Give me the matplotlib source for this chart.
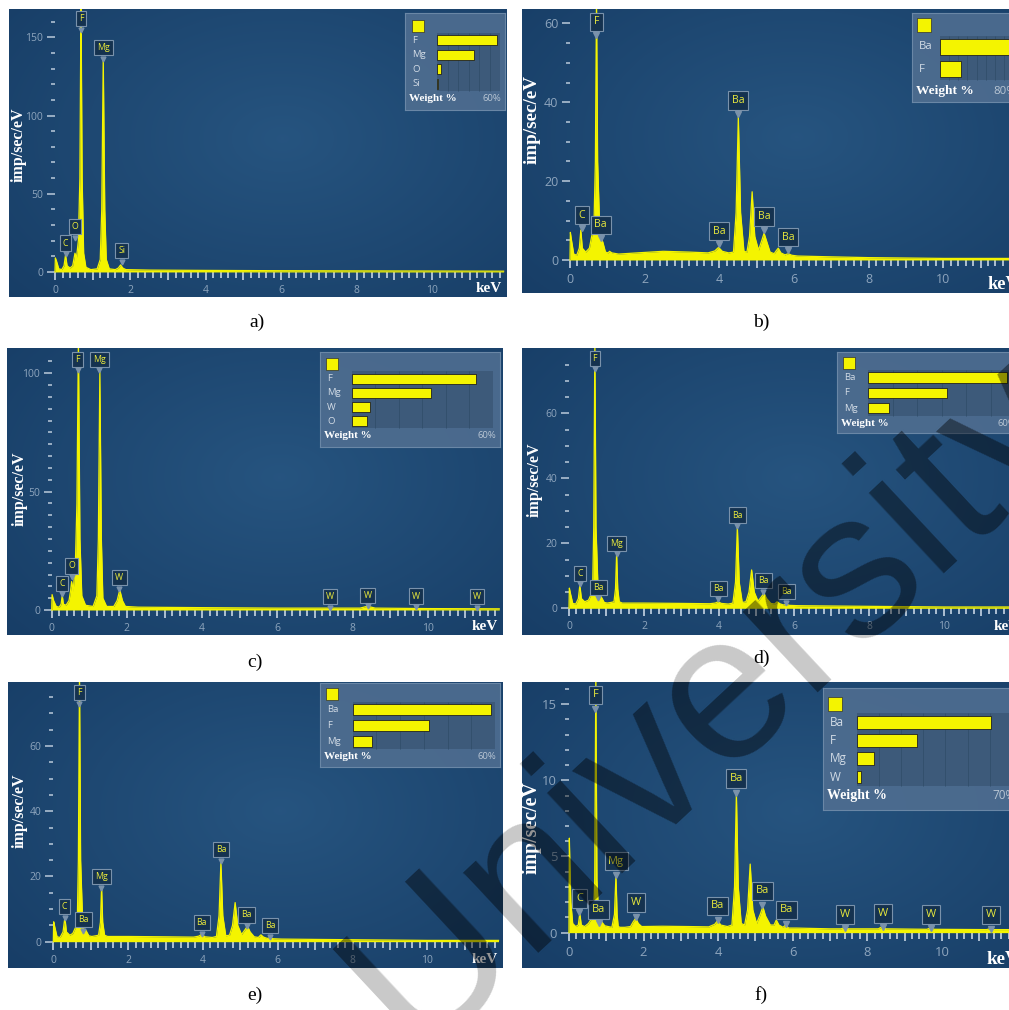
import numpy as np
import matplotlib
matplotlib.use('Agg')
import matplotlib.pyplot as plt
from matplotlib.ticker import FixedLocator, FuncFormatter
from matplotlib.patches import Rectangle
from matplotlib.transforms import offset_copy

# ---- spectra (keV, imp/sec/eV) ----
a_kev = [0.00, 0.01, 0.04, 0.10, 0.18, 0.24, 0.28, 0.32, 0.40, 0.47,
         0.53, 0.57, 0.62, 0.66, 0.69, 0.72, 0.76, 0.82, 0.95, 1.12,
         1.20, 1.24, 1.28, 1.32, 1.36, 1.44, 1.60, 1.68, 1.74, 1.80,
         1.88, 2.50, 4.00, 6.00, 8.00, 10.0, 11.9]
a_cps = [0, 9, 7, 2, 1.5, 4, 11, 4, 2.5, 4,
         12, 9, 20, 60, 175, 60, 12, 3, 1.5, 2,
         8, 40, 137, 40, 8, 2, 1.5, 2.5, 4.5, 2.5,
         1.5, 1.2, 1.0, 0.8, 0.7, 0.6, 0.5]

b_kev = [0.00, 0.01, 0.04, 0.10, 0.18, 0.25, 0.29, 0.33, 0.42, 0.52,
         0.58, 0.64, 0.68, 0.71, 0.74, 0.80, 0.88, 0.95, 1.02, 1.06,
         1.12, 1.30, 1.80, 2.50, 3.20, 3.70, 3.88, 3.98, 4.08, 4.25,
         4.38, 4.45, 4.51, 4.57, 4.66, 4.74, 4.81, 4.88, 4.95, 5.05,
         5.14, 5.20, 5.26, 5.36, 5.47, 5.53, 5.58, 5.65, 5.76, 5.85,
         5.94, 6.10, 7.00, 8.00, 9.00, 10.0, 11.9]
b_cps = [0, 7, 5, 1.5, 1.2, 3, 7.6, 3, 2, 3,
         6, 8, 25, 66, 25, 6.5, 4.5, 2, 1.8, 2.2,
         1.8, 1.5, 1.8, 2.2, 2.0, 1.8, 2.3, 3.2, 2.2, 1.8,
         2.0, 12, 36.3, 12, 2.2, 2.0, 6, 17.3, 6, 2.5,
         5, 6.8, 5, 2.0, 1.6, 2.4, 3.0, 1.8, 1.3, 1.6,
         1.2, 1.0, 0.8, 0.6, 0.5, 0.4, 0.4]

c_kev = [0.00, 0.01, 0.05, 0.12, 0.20, 0.25, 0.28, 0.31, 0.38, 0.46,
         0.50, 0.53, 0.57, 0.63, 0.67, 0.71, 0.75, 0.80, 0.90, 1.10,
         1.20, 1.24, 1.28, 1.32, 1.36, 1.46, 1.65, 1.74, 1.81, 1.88,
         1.96, 2.30, 4.00, 6.00, 8.20, 8.40, 8.60, 10.0, 11.9]
c_cps = [0, 6.5, 4, 1.5, 1.2, 2.5, 6.3, 2.5, 2, 4,
         8, 12, 8, 20, 45, 115, 30, 6, 2, 1.5,
         6, 30, 101, 30, 5, 1.5, 1.5, 4, 8.5, 4,
         1.5, 1.2, 1.0, 0.8, 0.8, 1.6, 0.8, 0.6, 0.5]

d_kev = [0.00, 0.01, 0.04, 0.10, 0.18, 0.25, 0.29, 0.33, 0.42, 0.52,
         0.58, 0.63, 0.66, 0.69, 0.72, 0.78, 0.86, 0.94, 1.02, 1.12,
         1.20, 1.24, 1.27, 1.30, 1.34, 1.42, 2.00, 3.00, 3.75, 3.90,
         3.98, 4.06, 4.25, 4.37, 4.44, 4.49, 4.54, 4.62, 4.72, 4.80,
         4.87, 4.94, 5.04, 5.13, 5.20, 5.27, 5.38, 5.48, 5.55, 5.62,
         5.72, 5.80, 5.88, 6.10, 7.00, 8.00, 9.00, 10.0, 11.9]
d_cps = [0, 6.2, 4.5, 1.5, 1.3, 3, 7.2, 3, 2, 2.5,
         4, 5.5, 25, 82, 25, 4.1, 3.5, 1.8, 1.6, 1.8,
         2, 6, 16.9, 6, 2, 1.6, 1.6, 1.5, 1.4, 1.6,
         2.0, 1.5, 1.3, 1.6, 8, 25.1, 8, 1.8, 2.0, 5,
         11.8, 5, 2.2, 3.5, 4.6, 3, 1.5, 1.3, 2.0, 1.4,
         1.0, 1.2, 0.9, 0.8, 0.7, 0.6, 0.5, 0.4, 0.4]

e_kev = [0.00, 0.01, 0.04, 0.10, 0.18, 0.26, 0.31, 0.35, 0.44, 0.52,
         0.58, 0.64, 0.67, 0.70, 0.73, 0.79, 0.87, 0.95, 1.03, 1.13,
         1.21, 1.26, 1.29, 1.32, 1.37, 1.45, 2.00, 3.00, 3.75, 3.89,
         3.97, 4.05, 4.25, 4.36, 4.43, 4.48, 4.53, 4.61, 4.71, 4.79,
         4.86, 4.93, 5.03, 5.12, 5.19, 5.26, 5.37, 5.48, 5.55, 5.62,
         5.72, 5.80, 5.88, 6.10, 7.00, 8.00, 9.00, 10.0, 11.9]
e_cps = [0, 6.1, 4.5, 1.5, 1.3, 3, 7.5, 3, 2, 2.5,
         4, 5.5, 25, 82, 25, 4.1, 3.5, 1.8, 1.6, 1.8,
         2, 6, 16.9, 6, 2, 1.6, 1.6, 1.5, 1.4, 1.7,
         2.3, 1.5, 1.3, 1.6, 8, 24.5, 8, 1.8, 2.0, 5,
         12, 5, 2.2, 3.6, 4.8, 3, 1.5, 1.3, 2.1, 1.4,
         1.0, 1.2, 0.9, 0.8, 0.7, 0.6, 0.5, 0.4, 0.4]

f_kev = [0.00, 0.01, 0.02, 0.05, 0.10, 0.18, 0.25, 0.29, 0.33, 0.42,
         0.52, 0.60, 0.66, 0.69, 0.72, 0.75, 0.80, 0.88, 0.96, 1.05,
         1.15, 1.22, 1.26, 1.29, 1.32, 1.37, 1.50, 1.65, 1.72, 1.79,
         1.86, 1.95, 2.50, 3.20, 3.75, 3.91, 3.99, 4.07, 4.25, 4.37,
         4.44, 4.49, 4.54, 4.62, 4.71, 4.79, 4.86, 4.93, 5.03, 5.13,
         5.20, 5.27, 5.40, 5.50, 5.56, 5.63, 5.74, 5.81, 5.89, 6.10,
         7.00, 7.30, 7.40, 7.50, 8.30, 8.40, 8.50, 9.60, 9.70, 9.80,
         11.2, 11.3, 11.4, 11.9]
f_cps = [0, 6.2, 5.0, 2.0, 0.6, 0.4, 0.5, 1.27, 0.5, 0.4,
         0.6, 0.9, 1.0, 3.5, 17, 3.5, 0.9, 0.7, 0.45, 0.4,
         0.35, 1.2, 3.8, 1.2, 0.4, 0.35, 0.35, 0.4, 0.7, 0.95,
         0.6, 0.4, 0.42, 0.4, 0.38, 0.55, 0.8, 0.5, 0.4, 0.5,
         3.0, 9.15, 3.0, 0.6, 0.5, 1.5, 4.5, 1.5, 0.6, 1.2,
         1.7, 1.1, 0.5, 0.5, 0.83, 0.5, 0.35, 0.5, 0.3, 0.3,
         0.25, 0.25, 0.35, 0.25, 0.25, 0.4, 0.25, 0.22, 0.32, 0.22,
         0.2, 0.26, 0.2, 0.2]

# ---- peak labels: element, keV, label height ----
a_lbl = ['C', 'O', 'F', 'Mg', 'Si']
a_lbl_kev = [0.28, 0.53, 0.69, 1.28, 1.77]
a_lbl_y = [18.5, 29, 162, 143.3, 13.6]

b_lbl = ['C', 'Ba', 'F', 'Ba', 'Ba', 'Ba', 'Ba']
b_lbl_kev = [0.31, 0.82, 0.71, 4.00, 4.51, 5.20, 5.85]
b_lbl_y = [11.4, 8.9, 60.4, 7.35, 40.4, 11.0, 5.8]

c_lbl = ['C', 'O', 'F', 'Mg', 'W', 'W', 'W', 'W', 'W']
c_lbl_kev = [0.28, 0.53, 0.69, 1.27, 1.80, 7.40, 8.40, 9.68, 11.30]
c_lbl_y = [11.3, 18.6, 106, 106, 13.6, 5.6, 6.3, 5.9, 5.6]

d_lbl = ['C', 'Ba', 'F', 'Mg', 'Ba', 'Ba', 'Ba', 'Ba']
d_lbl_kev = [0.29, 0.78, 0.69, 1.27, 3.98, 4.49, 5.18, 5.80]
d_lbl_y = [10.8, 6.5, 76.9, 20, 6.2, 28.7, 8.5, 5.1]

e_lbl = ['C', 'Ba', 'F', 'Mg', 'Ba', 'Ba', 'Ba', 'Ba']
e_lbl_kev = [0.30, 0.80, 0.70, 1.28, 3.97, 4.48, 5.17, 5.79]
e_lbl_y = [10.7, 6.7, 76.4, 20, 5.9, 28.3, 8.2, 4.9]

f_lbl = ['C', 'Ba', 'F', 'Mg', 'W', 'Ba', 'Ba', 'Ba', 'Ba', 'W', 'W', 'W', 'W']
f_lbl_kev = [0.28, 0.80, 0.71, 1.27, 1.79, 3.99, 4.48, 5.18, 5.83, 7.41, 8.43, 9.71, 11.32]
f_lbl_y = [2.26, 1.53, 15.6, 4.7, 1.97, 1.75, 10.1, 2.74, 1.49, 1.2, 1.27, 1.2, 1.16]

# ---- weight % insets ----
a_el, a_wt, a_wmax = ['F', 'Mg', 'O', 'Si'], [57, 35, 3.8, 0.5], 60
b_el, b_wt, b_wmax = ['Ba', 'F'], [77, 22.7], 80
c_el, c_wt, c_wmax = ['F', 'Mg', 'W', 'O'], [53, 33.5, 7.8, 6.4], 60
d_el, d_wt, d_wmax = ['Ba', 'F', 'Mg'], [56.7, 32, 8.6], 60
e_el, e_wt, e_wmax = ['Ba', 'F', 'Mg'], [58.3, 32, 8.0], 60
f_el, f_wt, f_wmax = ['Ba', 'F', 'Mg', 'W'], [60.7, 27.4, 7.8, 1.8], 70

YEL = '#f4f400'
FW, FH = 1009, 1010

# layout of each panel in pixels: panel rect, limits, inset rect, text scale
panels = [
    dict(tag='a)', cap=(257, 322), rect=(9, 9, 507, 297), xlim=(-1.22, 11.99), ylim=(-16.0, 168.1),
         kev=a_kev, cps=a_cps, lbl=(a_lbl, a_lbl_kev, a_lbl_y), yt=[0, 50, 100, 150],
         ym=np.arange(10, 170, 10), box=(405, 13, 505, 110), bar=(0.32, 0.95),
         wt=(a_el, a_wt, a_wmax), s=1.0, ylab=(0.02, 0.53)),
    dict(tag='b)', cap=(761, 322), rect=(522, 9, 1022, 293), xlim=(-1.286, 12.11), ylim=(-8.37, 63.64),
         kev=b_kev, cps=b_cps, lbl=(b_lbl, b_lbl_kev, b_lbl_y), yt=[0, 20, 40, 60],
         ym=np.arange(5, 65, 5), box=(912, 13, 1020, 102), bar=(0.26, 0.935),
         wt=(b_el, b_wt, b_wmax), s=1.2, ylab=(0.02, 0.61)),
    dict(tag='c)', cap=(255, 662), rect=(7, 348, 503, 635), xlim=(-1.189, 12.0), ylim=(-10.56, 110.7),
         kev=c_kev, cps=c_cps, lbl=(c_lbl, c_lbl_kev, c_lbl_y), yt=[0, 50, 100],
         ym=np.arange(5, 110, 5), box=(320, 352, 500, 447), bar=(0.176, 0.961),
         wt=(c_el, c_wt, c_wmax), s=1.0, ylab=(0.026, 0.51)),
    dict(tag='d)', cap=(761, 658), rect=(522, 348, 1022, 635), xlim=(-1.253, 12.08), ylim=(-8.22, 80.09),
         kev=d_kev, cps=d_cps, lbl=(d_lbl, d_lbl_kev, d_lbl_y), yt=[0, 20, 40, 60],
         ym=np.arange(5, 80, 5), box=(837, 352, 1020, 433), bar=(0.171, 0.973),
         wt=(d_el, d_wt, d_wmax), s=1.0, ylab=(0.026, 0.54)),
    dict(tag='e)', cap=(255, 995), rect=(8, 682, 503, 968), xlim=(-1.211, 12.02), ylim=(-8.07, 79.66),
         kev=e_kev, cps=e_cps, lbl=(e_lbl, e_lbl_kev, e_lbl_y), yt=[0, 20, 40, 60],
         ym=np.arange(5, 80, 5), box=(320, 683, 500, 767), bar=(0.182, 0.972),
         wt=(e_el, e_wt, e_wmax), s=1.0, ylab=(0.024, 0.55)),
    dict(tag='f)', cap=(761, 995), rect=(522, 682, 1022, 968), xlim=(-1.26, 12.15), ylim=(-2.32, 16.45),
         kev=f_kev, cps=f_cps, lbl=(f_lbl, f_lbl_kev, f_lbl_y), yt=[0, 5, 10, 15],
         ym=np.arange(1, 17, 1), box=(823, 688, 1020, 810), bar=(0.171, 0.959),
         wt=(f_el, f_wt, f_wmax), s=1.25, ylab=(0.019, 0.49)),
]

fig = plt.figure(figsize=(FW / 100, FH / 100), dpi=100)
fig.patch.set_facecolor('white')

# background vignette for the spectra
gy, gx = np.mgrid[0:1:120j, 0:1:200j]
rr = np.clip(np.sqrt(((gx - 0.55) / 0.75) ** 2 + ((gy - 0.45) / 0.85) ** 2), 0, 1)
c_in = np.array([0.15, 0.33, 0.50])
c_out = np.array([0.09, 0.24, 0.40])
bg = c_in + (c_out - c_in) * rr[..., None]

# watermark: light grey on the page, dark over the spectra
WM_XY = (712 / FW, 1 - 702 / FH)
WM_KW = dict(rotation=43, rotation_mode='anchor', ha='center', va='center',
             fontsize=150, family='Liberation Sans')
fig.text(*WM_XY, 'University', color='#c9c9c9', zorder=0.5, **WM_KW)


def weight_box(ax, p):
    l, t, r, b = p['box']
    pl, pt, pr, pb = p['rect']
    pw, ph = pr - pl, pb - pt
    bw = r - l
    els, wts, wmax = p['wt']
    fs, fe = p['bar']
    s = p['s']
    ins = ax.inset_axes([(l - pl) / pw, (pb - b) / ph, bw / pw, (b - t) / ph])
    ins.set_zorder(6)
    ins.patch.set_facecolor('#4e6d90')
    ins.patch.set_alpha(0.92)
    for sp in ins.spines.values():
        sp.set_color('#6a87a6')
        sp.set_linewidth(0.8)
    ins.set_xticks([])
    ins.set_yticks([])
    n = len(els)
    rows = np.arange(1, n + 1)
    ins.add_patch(Rectangle((0, 0.5), wmax, n, fc='#3d5a7a', ec='none', zorder=0.3))
    ins.vlines(np.arange(10, wmax, 10), 0.5, n + 0.5, color='#33506d', lw=0.7, zorder=0.4)
    ins.barh(rows, wts, height=0.7, color=YEL, edgecolor='#202020', lw=0.6, zorder=1)
    tr = ins.get_yaxis_transform()
    for rw, el in zip(rows, els):
        ins.text(7 / bw, rw, el, transform=tr, va='center', ha='left',
                 color='#d3dce6', fontsize=6.8 * s, family='Open Sans')
    ins.plot([12.5 / bw], [0], marker='s', ms=8.5 * s, transform=tr,
             color=YEL, mec='#303030', mew=0.5)
    ins.text(4 / bw, n + 1, 'Weight %', transform=tr, va='center', ha='left',
             color='white', fontsize=8 * s, family='Liberation Serif', weight='bold')
    ins.text(1 - 4 / bw, n + 1, f'{wmax}%', transform=tr, va='center', ha='right',
             color='#b9c6d4', fontsize=6.8 * s, family='Open Sans')
    unit = 0.75 / (n + 1)
    span = fe - fs
    ins.set_xlim(-fs / span * wmax, (1 - fs) / span * wmax)
    ins.set_ylim((n + 1) + 0.12 / unit, -0.13 / unit)


for p in panels:
    l, t, r, b = p['rect']
    ax = fig.add_axes([l / FW, 1 - b / FH, (r - l) / FW, (b - t) / FH])
    ax.set_zorder(1)
    s = p['s']
    ax.imshow(bg, extent=(0, 1, 0, 1), transform=ax.transAxes, aspect='auto',
              interpolation='bilinear', zorder=0)
    ax.fill_between(p['kev'], 0, p['cps'], color=YEL, lw=0, zorder=3)
    ax.plot(p['kev'], p['cps'], color=YEL, lw=0.9, zorder=3)

    for sp in ax.spines.values():
        sp.set_visible(False)
    ax.spines['bottom'].set_position(('data', 0))
    ax.spines['left'].set_position(('data', 0))
    ax.xaxis.set_major_locator(FixedLocator(np.arange(0, 12, 1)))
    ax.xaxis.set_minor_locator(FixedLocator(np.arange(0, 11.9, 0.2)))
    ax.xaxis.set_major_formatter(FuncFormatter(
        lambda v, pos: str(int(round(v))) if int(round(v)) % 2 == 0 else ''))
    ax.yaxis.set_major_locator(FixedLocator(p['yt']))
    ax.yaxis.set_minor_locator(FixedLocator(p['ym']))
    ax.tick_params(axis='x', which='major', direction='out', length=6, width=1.3,
                   color='#b9c9da', labelcolor='#8ea5bd', labelsize=7.5 * s, pad=3.5,
                   labelfontfamily='Open Sans')
    ax.tick_params(axis='x', which='minor', direction='out', length=4, width=1.3, color='#b9c9da')
    ax.tick_params(axis='y', which='major', direction='out', length=6, width=1.3,
                   color='#a3b6ca', labelcolor='#8ea5bd', labelsize=7.5 * s, pad=2.5,
                   labelfontfamily='Open Sans')
    ax.tick_params(axis='y', which='minor', direction='out', length=3, width=1.3, color='#a3b6ca')

    # peak labels
    names, lk, ly = p['lbl']
    for nm, k, y in zip(names, lk, ly):
        ax.text(k, y, nm, ha='center', va='center', color='#e9e93c',
                fontsize=6.3 * s, family='Open Sans', zorder=6,
                bbox=dict(boxstyle='square,pad=0.35', fc='#15324f', ec='#7a92ab', lw=0.8))
        ax.plot([k], [y], marker='v', ms=3.5 * s, color='#7a92ab', zorder=5,
                transform=offset_copy(ax.transData, fig=fig, x=0, y=-8 * s, units='points'))

    ax.text(p['ylab'][0], p['ylab'][1], 'imp/sec/eV', transform=ax.transAxes, rotation=90,
            ha='center', va='center', color='white', fontsize=11.5 * s,
            family='Liberation Serif', weight='bold', zorder=6)
    ax.text(0.99 if l < 500 else 0.995, 0.03, 'keV', transform=ax.transAxes,
            ha='right', va='center', color='white', fontsize=11 * s,
            family='Liberation Serif', weight='bold', zorder=6)

    weight_box(ax, p)

    # watermark over the dark panel, clipped to it
    ax.text(*WM_XY, 'University', transform=fig.transFigure, color='black', alpha=0.42,
            zorder=20, clip_on=True, **WM_KW)

    ax.set_xlim(*p['xlim'])
    ax.set_ylim(*p['ylim'])

    fig.text(p['cap'][0] / FW, 1 - p['cap'][1] / FH, p['tag'], ha='center', va='center',
             fontsize=14, family='Liberation Serif', zorder=3)

fig.savefig('out.png', dpi=100, facecolor='white')
